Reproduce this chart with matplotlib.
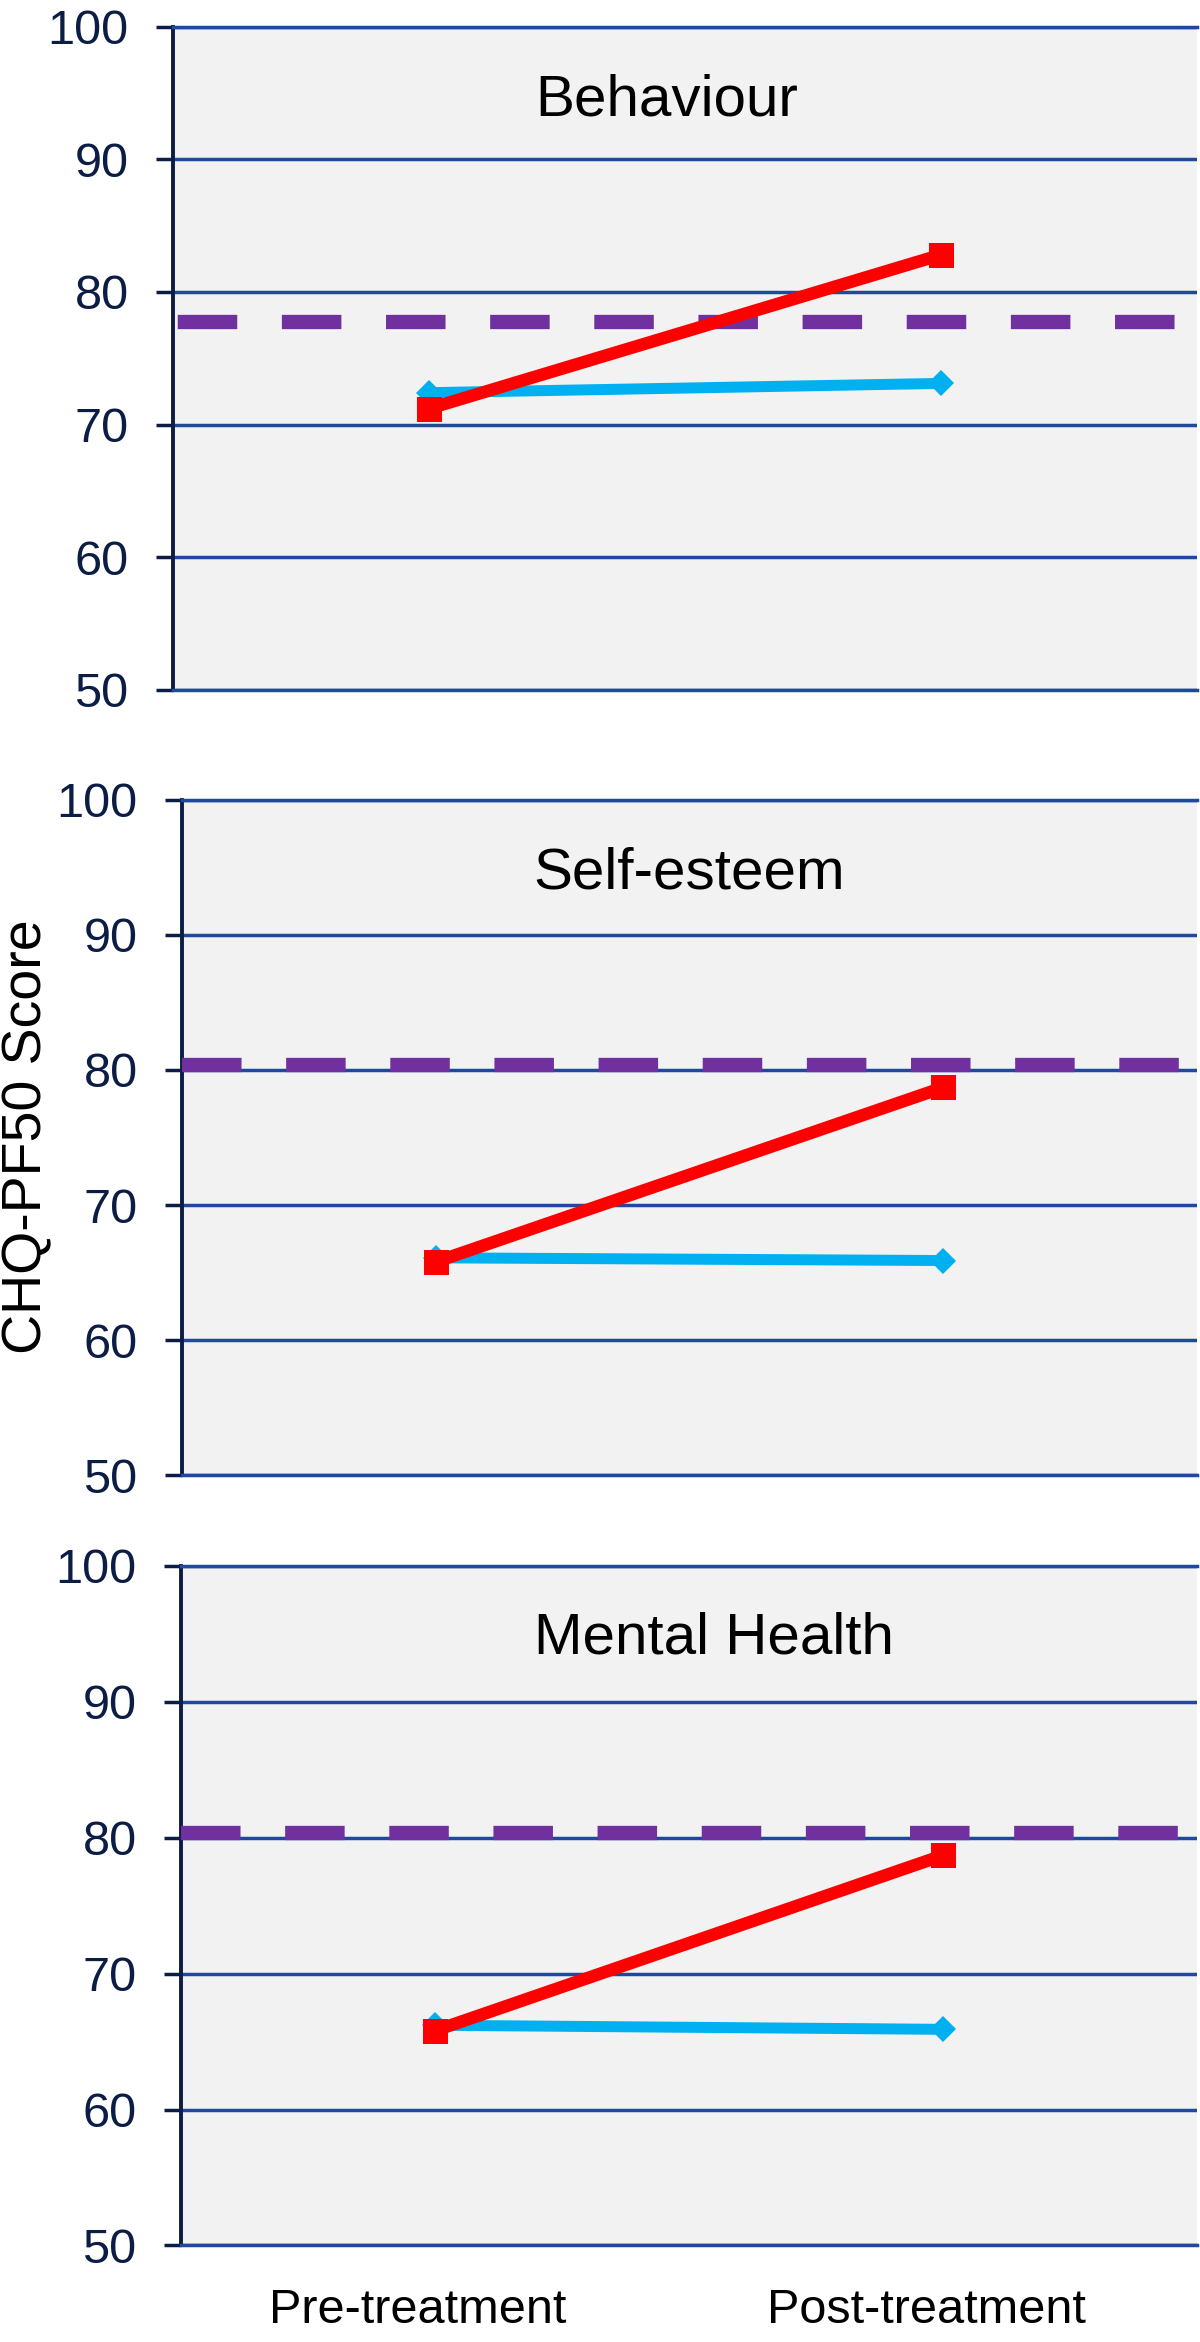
import matplotlib
matplotlib.use('Agg')
import matplotlib.pyplot as plt
from matplotlib.transforms import ScaledTranslation

plt.rcParams['font.family'] = ['Liberation Sans', 'DejaVu Sans']

# ---- data ----
categories = ["Pre-treatment", "Post-treatment"]
panel_titles = ["Behaviour", "Self-esteem", "Mental Health"]
red_series = [[71.2, 82.8], [65.8, 78.7], [65.8, 78.7]]
blue_series = [[72.4, 73.1], [66.1, 65.9], [66.2, 65.9]]
norm_values = [77.7, 80.4, 80.35]
y_ticks = [50, 60, 70, 80, 90, 100]
y_label = "CHQ-PF50 Score"

# ---- style ----
BG = '#F2F2F2'
GRID = '#1F4A9C'
NAVY = '#0B1D45'
RED = '#FF0000'
BLUE = '#00B0F0'
PURPLE = '#7030A0'

positions = [(0.1442, 0.7055, 0.8533, 0.2831),
             (0.1517, 0.3700, 0.8458, 0.2886),
             (0.1508, 0.04125, 0.8467, 0.2901)]
title_pos = [(0.482, 0.888), (0.500, 0.890), (0.525, 0.893)]
dash_offsets = [6.95, 0.0, 0.0]

fig = plt.figure(figsize=(12, 23.42), dpi=100)
x = [0.5, 1.5]

for i in range(3):
    ax = fig.add_axes(positions[i])
    ax.set_facecolor(BG)
    ax.set_xlim(0, 2)
    ax.set_ylim(50, 100)
    ax.set_yticks(y_ticks)
    ax.yaxis.grid(True, color=GRID, lw=2.5)
    ax.set_axisbelow(True)
    for s in ['top', 'bottom']:
        ax.spines[s].set_color(GRID)
        ax.spines[s].set_linewidth(2.5)
    ax.spines['right'].set_visible(False)
    ax.spines['left'].set_color(NAVY)
    ax.spines['left'].set_linewidth(2.8)
    ax.tick_params(axis='y', direction='out', length=12, width=2.5, color=NAVY,
                   labelcolor=NAVY, labelsize=35, pad=20)

    ax.axhline(norm_values[i], color=PURPLE, lw=10.3,
               linestyle=(dash_offsets[i], (4.16, 3.12)), dash_capstyle='butt', zorder=3)
    ax.plot(x, blue_series[i], color=BLUE, lw=7.9, marker='D', ms=13.5, mew=0,
            solid_capstyle='butt', zorder=4)
    ax.plot(x, red_series[i], color=RED, lw=9.0, marker='s', ms=18, mew=0,
            solid_capstyle='butt', zorder=5)

    ax.text(title_pos[i][0], title_pos[i][1], panel_titles[i], transform=ax.transAxes,
            ha='center', va='center', fontsize=42, color='black')

    if i == 2:
        ax.set_xticks(x)
        ax.set_xticklabels(categories)
        ax.tick_params(axis='x', length=0, labelsize=35, labelcolor='black', pad=31)
        off = ScaledTranslation(-0.17, 0, fig.dpi_scale_trans)
        for lab in ax.get_xticklabels():
            lab.set_transform(lab.get_transform() + off)
    else:
        ax.set_xticks([])

fig.text(0.0225, 0.5145, y_label, rotation=90, ha='center', va='center',
         fontsize=40, color='black')

fig.savefig('out.png', dpi=100, facecolor='white')
